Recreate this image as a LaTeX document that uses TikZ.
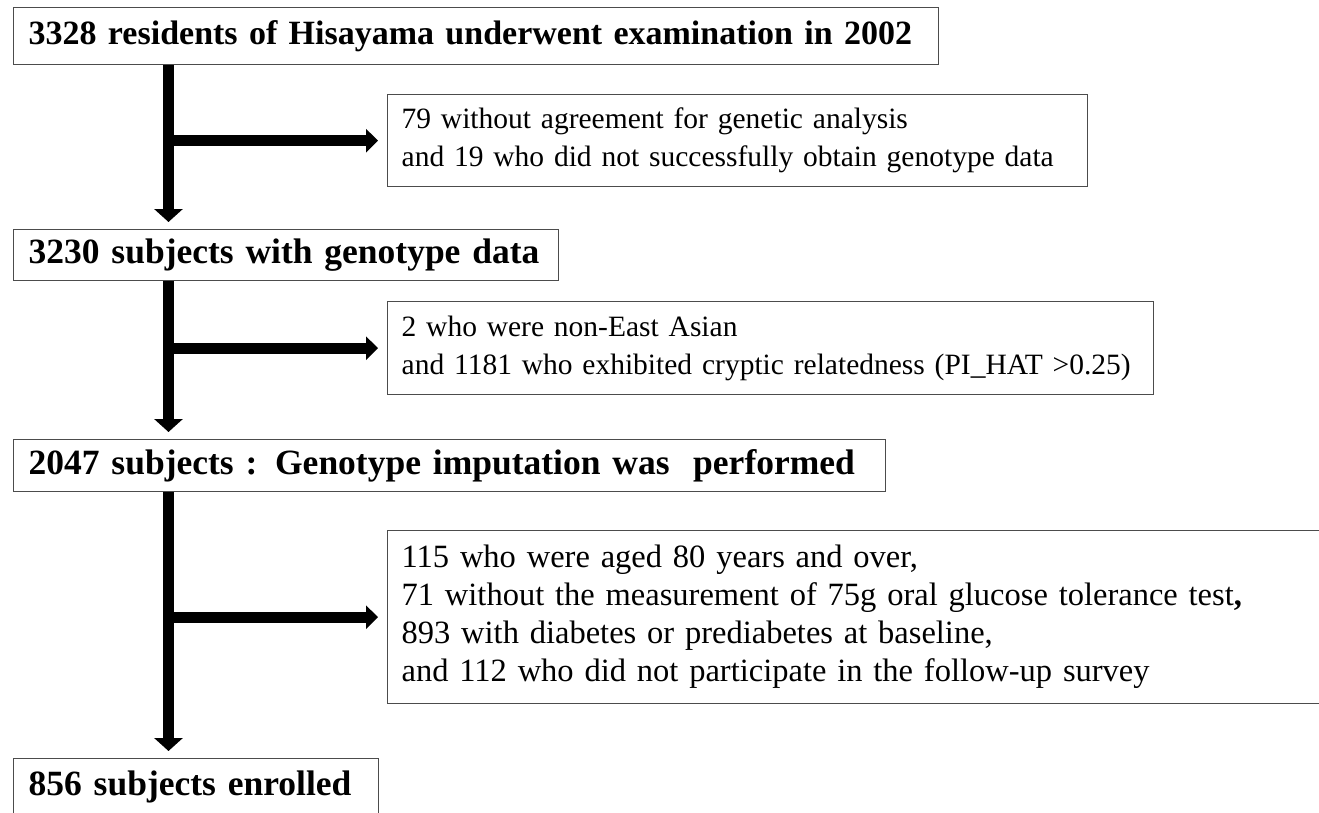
\documentclass[tikz,border=0pt]{standalone}
\usepackage{fontspec}
\setmainfont[WordSpace=0.7]{Liberation Serif}
\newfontfamily\headfam[WordSpace=0.6]{Liberation Serif}
\usetikzlibrary{arrows.meta}
\definecolor{boxgray}{gray}{0.3}
\begin{document}
\begin{tikzpicture}[x=1pt,y=-1pt,
  mainbox/.style n args={3}{draw=boxgray, line width=1.3pt, anchor=north west,
    inner xsep=15pt, inner ysep=0pt, align=left,
    font=\headfam\bfseries\fontsize{#3}{40}\selectfont,
    text width=#1pt-30pt, minimum height=#2pt},
  exbox/.style n args={4}{draw=boxgray, line width=1.3pt, anchor=north west,
    inner xsep=14pt, inner ysep=0pt, align=left,
    font=\fontsize{#3}{#4}\selectfont,
    text width=#1pt-28pt, minimum height=#2pt},
  downflow/.style={line width=11pt, -{Triangle[width=28pt,length=13pt]}, shorten >=7pt},
  sideflow/.style={line width=11pt, -{Triangle[width=23pt,length=12pt]}, shorten >=9pt}
]
\useasboundingbox (0,0) rectangle (1319,812);
\clip (0,0) rectangle (1319,812);
\fill[white] (0,0) rectangle (1319,812);

\node[mainbox={925}{57}{34}] (b1) at (13,7) {\mbox{3328 residents of Hisayama underwent examination in 2002}};
\node[exbox={700}{92}{29.5}{38}] (b2) at (387,94) {\mbox{79 without agreement for genetic analysis}\\\mbox{and 19 who did not successfully obtain genotype data}};
\node[mainbox={545}{51}{35.5}] (b3) at (13,229) {\mbox{3230 subjects with genotype data}};
\node[exbox={766}{93}{29.5}{38}] (b4) at (387,301) {\mbox{2 who were non-East Asian}\\\mbox{and 1181 who exhibited cryptic relatedness (PI\_HAT >0.25)}};
\node[mainbox={872}{52}{35.5}] (b5) at (13,439) {\mbox{2047 subjects : Genotype imputation was~ performed}};
\node[exbox={960}{173}{32.5}{38}] (b6) at (387,530) {\mbox{115 who were aged 80 years and over,}\\\mbox{71 without the measurement of 75g oral glucose tolerance test\textbf{,}}\\\mbox{893 with diabetes or prediabetes at baseline,}\\\mbox{and 112 who did not participate in the follow-up survey}};
\node[mainbox={365}{57}{35.5}] (b7) at (13,758) {\mbox{856 subjects enrolled}};

\coordinate (sx) at (168.5,0);

\draw[downflow] (b1.south -| sx) -- (b3.north -| sx);
\draw[downflow] (b3.south -| sx) -- (b5.north -| sx);
\draw[downflow] (b5.south -| sx) -- (b7.north -| sx);

\draw[sideflow] (sx |- b2.west) -- (b2.west);
\draw[sideflow] (sx |- b4.west) -- (b4.west);
\draw[sideflow] (sx |- b6.west) -- (b6.west);
\end{tikzpicture}
\end{document}
